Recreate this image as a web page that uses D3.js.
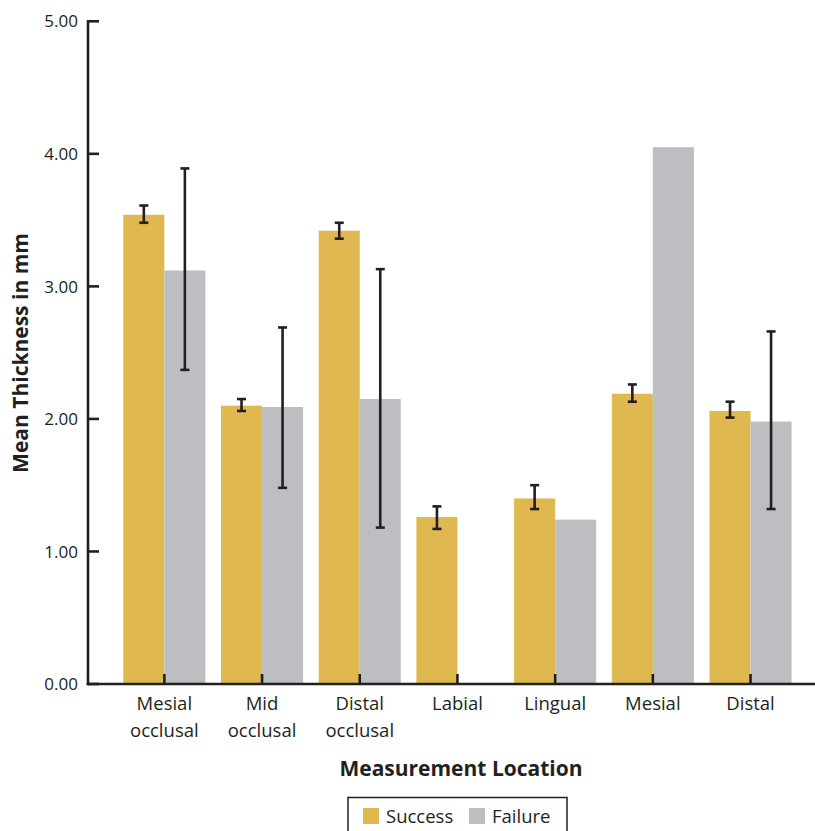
<!DOCTYPE html>
<html>
<head>
<meta charset="utf-8">
<script src="https://cdn.jsdelivr.net/npm/d3@7"></script>
<style>
  html, body { margin: 0; padding: 0; background: #fff; }
  svg { display: block; font-family: "Open Sans", "Lato", sans-serif; }
</style>
</head>
<body>
<svg id="chart" width="815" height="831"></svg>
<script>
// Measurement locations (two-line labels are split on "\n")
const categories = ["Mesial\nocclusal", "Mid\nocclusal", "Distal\nocclusal", "Labial", "Lingual", "Mesial", "Distal"];
const seriesNames = ["Success", "Failure"];

// Mean thickness (mm); null = no measurement
const successMean = [3.54, 2.10, 3.42, 1.26, 1.40, 2.19, 2.06];
const failureMean = [3.12, 2.09, 2.15, null, 1.24, 4.05, 1.98];

// Error-bar extents [low, high]; null = no bar drawn
const successErr = [[3.48, 3.61], [2.06, 2.15], [3.36, 3.48], [1.17, 1.34], [1.32, 1.50], [2.13, 2.26], [2.01, 2.13]];
const failureErr = [[2.37, 3.89], [1.48, 2.69], [1.18, 3.13], null, null, null, [1.32, 2.66]];

const yTicks = [0, 1, 2, 3, 4, 5];

const colors = { Success: "#E0B850", Failure: "#BDBEC1" };
const ink = "#231F20";

const svg = d3.select("#chart");

const axisLeftX = 88, axisBottomY = 684;

const x0 = d3.scaleBand()
  .domain(categories)
  .range([115.5, 799.4])
  .paddingInner(0.16)
  .paddingOuter(0.08);

const x1 = d3.scaleBand()
  .domain(seriesNames)
  .range([0, x0.bandwidth()]);

const y = d3.scaleLinear().domain([0, 5]).range([axisBottomY, 21.3]);

// Bars
const rows = categories.map((c, i) => ({
  cat: c,
  vals: [
    { s: "Success", v: successMean[i], e: successErr[i] },
    { s: "Failure", v: failureMean[i], e: failureErr[i] }
  ]
}));

const groups = svg.append("g").selectAll("g")
  .data(rows).join("g")
  .attr("transform", d => `translate(${x0(d.cat)},0)`);

groups.selectAll("rect")
  .data(d => d.vals.filter(v => v.v != null))
  .join("rect")
  .attr("x", d => x1(d.s))
  .attr("width", x1.bandwidth())
  .attr("y", d => y(d.v))
  .attr("height", d => y(0) - y(d.v))
  .attr("fill", d => colors[d.s]);

// Error bars
const capHalf = 4.5;
const eb = groups.selectAll("g.err")
  .data(d => d.vals.filter(v => v.e != null))
  .join("g")
  .attr("class", "err")
  .attr("stroke", ink)
  .attr("stroke-width", 2.6);

eb.append("line")
  .attr("x1", d => x1(d.s) + x1.bandwidth() / 2)
  .attr("x2", d => x1(d.s) + x1.bandwidth() / 2)
  .attr("y1", d => y(d.e[0]))
  .attr("y2", d => y(d.e[1]));
eb.selectAll("line.cap")
  .data(d => [[d, d.e[0]], [d, d.e[1]]])
  .join("line")
  .attr("class", "cap")
  .attr("x1", d => x1(d[0].s) + x1.bandwidth() / 2 - capHalf)
  .attr("x2", d => x1(d[0].s) + x1.bandwidth() / 2 + capHalf)
  .attr("y1", d => y(d[1]))
  .attr("y2", d => y(d[1]));

// Y axis
const yAxis = svg.append("g");
yAxis.append("line")
  .attr("x1", axisLeftX).attr("x2", axisLeftX)
  .attr("y1", y(5) - 1.3).attr("y2", axisBottomY + 1.3)
  .attr("stroke", ink).attr("stroke-width", 2.6);
yAxis.selectAll("line.tick")
  .data(yTicks).join("line")
  .attr("class", "tick")
  .attr("x1", axisLeftX).attr("x2", axisLeftX + 11)
  .attr("y1", d => y(d)).attr("y2", d => y(d))
  .attr("stroke", ink).attr("stroke-width", 2.6);
yAxis.selectAll("text")
  .data(yTicks).join("text")
  .attr("x", 78)
  .attr("y", d => y(d))
  .attr("dy", "0.36em")
  .attr("text-anchor", "end")
  .attr("font-size", 17)
  .attr("fill", ink)
  .text(d => d3.format(".2f")(d));

// X axis
const xAxis = svg.append("g");
xAxis.append("line")
  .attr("x1", axisLeftX - 1.3).attr("x2", 815)
  .attr("y1", axisBottomY).attr("y2", axisBottomY)
  .attr("stroke", ink).attr("stroke-width", 2.6);
xAxis.selectAll("line.tick")
  .data(categories).join("line")
  .attr("class", "tick")
  .attr("x1", d => x0(d) + x0.bandwidth() / 2)
  .attr("x2", d => x0(d) + x0.bandwidth() / 2)
  .attr("y1", axisBottomY).attr("y2", axisBottomY - 10)
  .attr("stroke", ink).attr("stroke-width", 2.6);
const xl = xAxis.selectAll("text")
  .data(categories).join("text")
  .attr("x", d => x0(d) + x0.bandwidth() / 2)
  .attr("y", 710)
  .attr("text-anchor", "middle")
  .attr("font-size", 18.5)
  .attr("fill", ink);
xl.selectAll("tspan")
  .data(d => d.split("\n").map(t => ({ t, x: x0(d) + x0.bandwidth() / 2 })))
  .join("tspan")
  .attr("x", d => d.x)
  .attr("dy", (d, i) => i === 0 ? 0 : 27)
  .text(d => d.t);

// Axis titles
svg.append("text")
  .attr("x", 461).attr("y", 776)
  .attr("text-anchor", "middle")
  .attr("font-size", 21).attr("font-weight", "bold")
  .attr("fill", ink)
  .text("Measurement Location");

svg.append("text")
  .attr("transform", "translate(28,353) rotate(-90)")
  .attr("text-anchor", "middle")
  .attr("font-size", 21).attr("font-weight", "bold")
  .attr("fill", ink)
  .text("Mean Thickness in mm");

// Legend
const legend = svg.append("g");
legend.append("rect")
  .attr("x", 348).attr("y", 797.5)
  .attr("width", 219).attr("height", 45)
  .attr("fill", "none").attr("stroke", ink).attr("stroke-width", 1.5);
const legendItems = [
  { s: "Success", x: 363 },
  { s: "Failure", x: 469 }
];
legend.selectAll("rect.sw")
  .data(legendItems).join("rect")
  .attr("class", "sw")
  .attr("x", d => d.x).attr("y", 808)
  .attr("width", 16).attr("height", 16)
  .attr("fill", d => colors[d.s]);
legend.selectAll("text")
  .data(legendItems).join("text")
  .attr("x", d => d.x + 23).attr("y", 823)
  .attr("font-size", 18.5)
  .attr("fill", ink)
  .text(d => d.s);
</script>
</body>
</html>
